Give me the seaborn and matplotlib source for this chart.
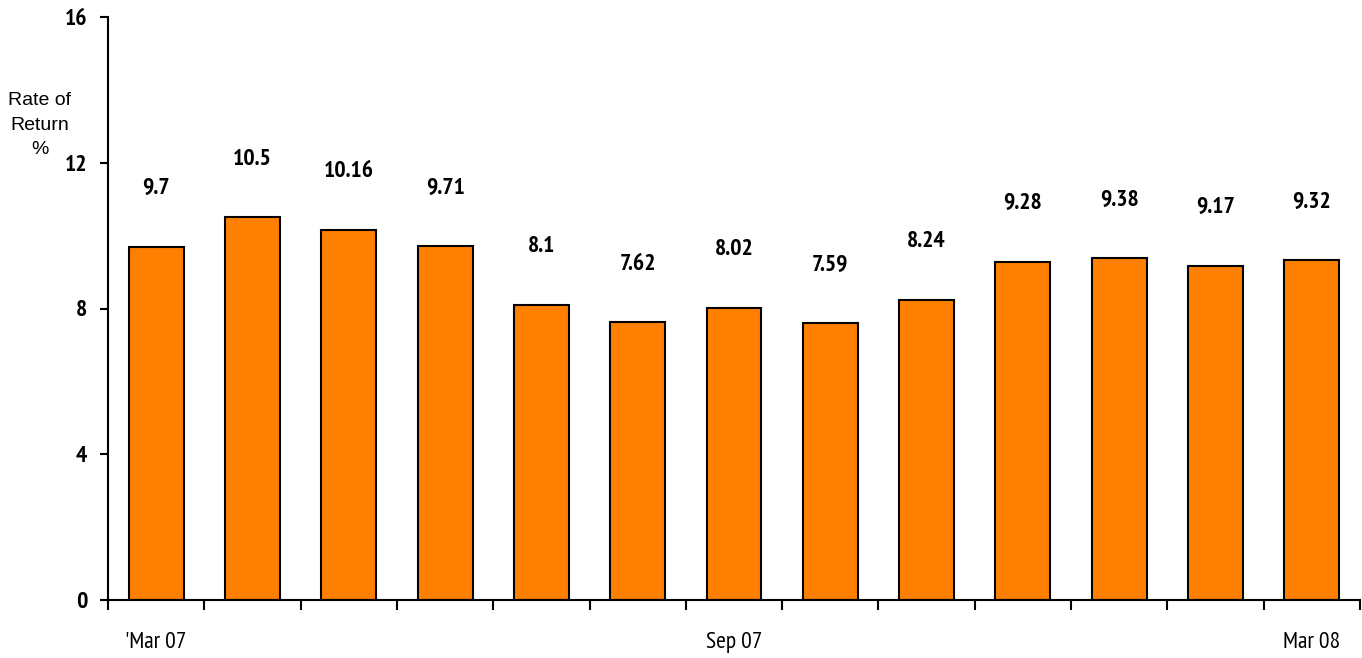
import matplotlib
matplotlib.use("Agg")
import matplotlib.pyplot as plt
import seaborn as sns
import pandas as pd
from matplotlib import font_manager

periods = ["Mar 07", "Apr 07", "May 07", "Jun 07", "Jul 07", "Aug 07", "Sep 07",
           "Oct 07", "Nov 07", "Dec 07", "Jan 08", "Feb 08", "Mar 08"]
returns = [9.7, 10.5, 10.16, 9.71, 8.1, 7.62, 8.02, 7.59, 8.24, 9.28, 9.38, 9.17, 9.32]
value_labels = ["9.7", "10.5", "10.16", "9.71", "8.1", "7.62", "8.02", "7.59", "8.24",
                "9.28", "9.38", "9.17", "9.32"]
tick_positions = [0, 6, 12]
tick_labels = ["'Mar 07", "Sep 07", "Mar 08"]
y_ticks = [0, 4, 8, 12, 16]

sns.set_style("white")
names = {f.name for f in font_manager.fontManager.ttflist}
candidates = ["Liberation Sans Narrow", "PT Sans Narrow", "Roboto Condensed",
              "Archivo Narrow", "Liberation Sans"]
narrow = [c for c in candidates if c in names][:1] + ["DejaVu Sans"]
plt.rcParams["font.family"] = narrow
for k in ["text.color", "axes.labelcolor", "xtick.color", "ytick.color"]:
    plt.rcParams[k] = "black"

df = pd.DataFrame({"period": periods, "ret": returns})

fig = plt.figure(figsize=(13.62, 6.58), dpi=100)
ax = fig.add_axes([108/1362, 1-600/658, (1360-108)/1362, (600-17)/658])

sns.barplot(data=df, x="period", y="ret", ax=ax, color="#FF8000", saturation=1,
            width=0.57, edgecolor="black", linewidth=1.5, order=periods)

ax.set_ylim(0, 16)
ax.set_xlim(-0.5, len(periods) - 0.5)
ax.set_yticks(y_ticks)
ax.set_yticklabels([str(t) for t in y_ticks], fontsize=17, fontweight="bold")
ax.tick_params(axis="y", direction="out", length=6, width=1.5, pad=9, left=True)

ax.set_xticks(tick_positions)
ax.set_xticklabels(tick_labels, fontsize=17)
ax.tick_params(axis="x", which="major", length=0, pad=23)
ax.set_xticks([i - 0.5 for i in range(len(periods) + 1)], minor=True)
ax.tick_params(axis="x", which="minor", direction="out", length=7, width=1.5, bottom=True)

ax.set_xlabel("")
ax.set_ylabel("")
for s in ["top", "right"]:
    ax.spines[s].set_visible(False)
for s in ["left", "bottom"]:
    ax.spines[s].set_color("black")
    ax.spines[s].set_linewidth(1.5)

for i, (v, lab) in enumerate(zip(returns, value_labels)):
    ax.annotate(lab, (i, v), xytext=(0, 58), textcoords="offset pixels",
                ha="center", va="center", fontsize=17, fontweight="bold")

fig.text(40/1362, 1-125/658, "Rate of\nReturn\n%", ha="center", va="center",
         fontsize=14, multialignment="center", family=["Liberation Sans", "DejaVu Sans"],
         linespacing=1.6)

fig.savefig("out.png", dpi=100)
